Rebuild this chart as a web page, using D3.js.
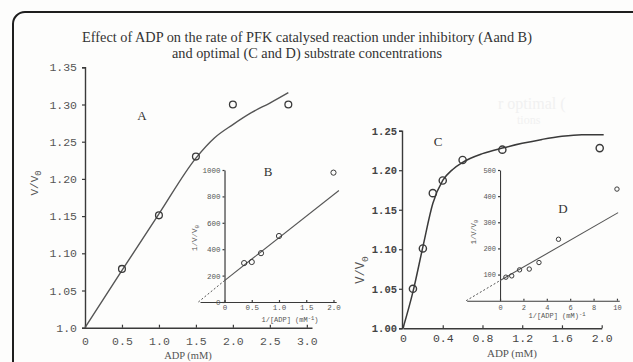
<!DOCTYPE html>
<html>
<head>
<meta charset="utf-8">
<script src="https://cdn.jsdelivr.net/npm/d3@7"></script>
<style>
  body { margin: 0; background: #fff; }
  svg { display: block; }
</style>
</head>
<body>
<div id="chart"></div>
<script>
// panel A: V/V0 vs ADP (inhibitory)
var adpA = [0.5, 1.0, 1.5, 2.0, 2.75];
var ratioA = [1.079, 1.151, 1.230, 1.300, 1.300];
var fitAx = [0, 0.5, 1.0, 1.5, 1.75, 2.0, 2.25, 2.5, 2.75];
var fitAy = [1.0, 1.077, 1.153, 1.228, 1.255, 1.273, 1.289, 1.302, 1.316];
var ticksAx = [0, 0.5, 1.0, 1.5, 2.0, 2.5, 3.0];
var ticksAy = [1.0, 1.05, 1.10, 1.15, 1.20, 1.25, 1.30, 1.35];

// panel B: double reciprocal of A
var invB = [0.36, 0.5, 0.67, 1.0, 2.0];
var recB = [295, 303, 370, 500, 980];
var lineBx = [-0.48, 0, 2.1];
var lineBy = [0, 162, 845];
var ticksBx = [0, 0.5, 1.0, 1.5, 2.0];
var ticksBy = [0, 200, 400, 600, 800, 1000];

// panel C: V/V0 vs ADP (optimal)
var adpC = [0.1, 0.2, 0.3, 0.4, 0.6, 1.0, 1.98];
var ratioC = [1.050, 1.101, 1.171, 1.187, 1.213, 1.226, 1.228];
var fitCx = [0, 0.1, 0.2, 0.3, 0.4, 0.5, 0.6, 0.8, 1.0, 1.2, 1.4, 1.6, 1.8, 2.02];
var fitCy = [1.0, 1.046, 1.103, 1.158, 1.187, 1.201, 1.210, 1.221, 1.228, 1.234, 1.239, 1.243, 1.245, 1.245];
var ticksCx = [0, 0.4, 0.8, 1.2, 1.6, 2.0];
var ticksCy = [1.00, 1.05, 1.10, 1.15, 1.20, 1.25];

// panel D: double reciprocal of C
var invD = [0.5, 1.0, 1.67, 2.5, 3.33, 5.0, 10.0];
var recD = [90, 95, 118, 121, 146, 235, 427];
var lineDx = [-2.9, 0, 10.1];
var lineDy = [0, 77, 337];
var ticksDx = [0, 2, 4, 6, 8, 10];
var ticksDy = [100, 200, 300, 400, 500];

var width = 633, height = 362;
var ink = '#3a3a3a', soft = '#555';
var mono = '"Liberation Mono", "DejaVu Sans Mono", monospace';
var serif = '"Liberation Serif", "DejaVu Serif", serif';

var svg = d3.select('#chart').append('svg')
  .attr('width', width).attr('height', height);

svg.append('rect').attr('width', width).attr('height', height).attr('fill', '#fdfdfc');

// frame, runs off the right and bottom edges
svg.append('rect')
  .attr('x', 13).attr('y', 12).attr('width', 640).attr('height', 380)
  .attr('rx', 12).attr('ry', 12)
  .attr('fill', 'none').attr('stroke', '#1e1e1e').attr('stroke-width', 2);

// faint ghost text bleeding through the scan
var ghost = svg.append('text').attr('font-family', serif).attr('font-size', 16).attr('fill', '#f1f1f1');
ghost.append('tspan').attr('x', 498).attr('y', 109).text('r optimal (');
ghost.append('tspan').attr('x', 517).attr('y', 124).attr('font-size', 12).text('tions');

// title
var title = svg.append('text').attr('font-family', serif).attr('font-size', 14.3)
  .attr('fill', '#333').attr('text-anchor', 'middle');
title.append('tspan').attr('x', 307).attr('y', 42)
  .text('Effect of ADP on the rate of PFK catalysed reaction under inhibitory (Aand B)');
title.append('tspan').attr('x', 307).attr('y', 58)
  .text('and optimal (C and D) substrate concentrations');

function styleAxis(g, size, color) {
  g.select('.domain').attr('stroke', ink).attr('stroke-width', 1.4);
  g.selectAll('.tick line').attr('stroke', ink).attr('stroke-width', 1.2);
  g.selectAll('.tick text').attr('font-family', mono).attr('font-size', size).attr('fill', color || soft);
}

function vLabel(x, y, size, prefix) {
  var t = svg.append('text')
    .attr('transform', `translate(${x},${y}) rotate(-90)`)
    .attr('text-anchor', 'middle')
    .attr('font-family', mono).attr('font-size', size).attr('fill', soft);
  t.append('tspan').text(prefix + 'V/V');
  t.append('tspan').attr('dy', size * 0.3).attr('font-size', size * 0.8).text('0');
}

function dots(xs, ys, x, y, r, sw) {
  svg.append('g').selectAll('circle')
    .data(xs)
    .enter()
    .append('circle')
    .attr('cx', d => x(d))
    .attr('cy', (d, i) => y(ys[i]))
    .attr('r', r)
    .attr('fill', 'none')
    .attr('stroke', ink)
    .attr('stroke-width', sw);
}

/***** A *****/
var xA = d3.scaleLinear().domain([0, 3.07]).range([85, 312]);
var yA = d3.scaleLinear().domain([1.0, 1.35]).range([327.7, 67.3]);

var gAx = svg.append('g').attr('transform', 'translate(0,327.7)')
  .call(d3.axisBottom(xA).tickValues(ticksAx).tickSizeInner(-3).tickSizeOuter(0).tickPadding(9)
    .tickFormat(d => d === 0 ? '0' : d3.format('.1f')(d)));
styleAxis(gAx, 11.5);
var gAy = svg.append('g').attr('transform', 'translate(85,0)')
  .call(d3.axisLeft(yA).tickValues(ticksAy).tickSize(3).tickPadding(5)
    .tickFormat(d => d === 1 ? '1.0' : d3.format('.2f')(d)));
styleAxis(gAy, 11.5);

var lineA = d3.line().x(d => xA(d[0])).y(d => yA(d[1])).curve(d3.curveMonotoneX);
svg.append('path')
  .attr('d', lineA(d3.zip(fitAx, fitAy)))
  .attr('fill', 'none').attr('stroke', soft).attr('stroke-width', 1.4);
dots(adpA, ratioA, xA, yA, 3.4, 1.3);

svg.append('text').attr('x', 142).attr('y', 120).attr('text-anchor', 'middle')
  .attr('font-family', serif).attr('font-size', 13).attr('fill', '#333').text('A');
vLabel(38, 183, 11, '');
svg.append('text').attr('x', 188).attr('y', 359).attr('text-anchor', 'middle')
  .attr('font-family', serif).attr('font-size', 10.5).attr('fill', soft).text('ADP (mM)');

/***** B *****/
var xB = d3.scaleLinear().domain([-0.45, 2.05]).range([200, 336.2]);
var yB = d3.scaleLinear().domain([0, 1000]).range([302, 170]);

var gBx = svg.append('g').attr('transform', 'translate(0,302)')
  .call(d3.axisBottom(xB).tickValues(ticksBx).tickSizeInner(-2).tickSizeOuter(0).tickPadding(3)
    .tickFormat(d => d === 0 ? '0' : d3.format('.1f')(d)));
styleAxis(gBx, 7.5);
var gBy = svg.append('g').attr('transform', `translate(${xB(0)},0)`)
  .call(d3.axisLeft(yB).tickValues(ticksBy).tickSize(2).tickSizeOuter(0).tickPadding(2)
    .tickFormat(d3.format('d')));
styleAxis(gBy, 7.5);
gBy.select('.domain').attr('stroke-width', 1.2);
gBx.select('.domain').attr('stroke-width', 1.2);

var lineB = d3.line().x(d => xB(d[0])).y(d => yB(d[1]));
var segB = d3.zip(lineBx, lineBy);
svg.append('path').attr('d', lineB(segB.slice(0, 2)))
  .attr('fill', 'none').attr('stroke', soft).attr('stroke-width', 1).attr('stroke-dasharray', '2,2');
svg.append('path').attr('d', lineB(segB.slice(1)))
  .attr('fill', 'none').attr('stroke', soft).attr('stroke-width', 1.1);
dots(invB, recB, xB, yB, 2.6, 1);

svg.append('text').attr('x', 268).attr('y', 176).attr('text-anchor', 'middle')
  .attr('font-family', serif).attr('font-size', 13).attr('fill', '#333').text('B');
vLabel(197, 238, 7.5, '1/');
var bl = svg.append('text').attr('x', 290).attr('y', 322).attr('text-anchor', 'middle')
  .attr('font-family', mono).attr('font-size', 7).attr('fill', soft);
bl.append('tspan').text('1/[ADP] (mM');
bl.append('tspan').attr('dy', -2.5).attr('font-size', 5.5).text('-1');
bl.append('tspan').attr('dy', 2.5).text(')');

/***** C *****/
var xC = d3.scaleLinear().domain([0, 2.0]).range([403, 601.7]);
var yC = d3.scaleLinear().domain([1.0, 1.25]).range([328.3, 130.7]);

var gCx = svg.append('g').attr('transform', 'translate(0,328.3)')
  .call(d3.axisBottom(xC).tickValues(ticksCx).tickSizeInner(-3).tickSizeOuter(0).tickPadding(6)
    .tickFormat(d => d === 0 ? '0' : d3.format('.1f')(d)));
styleAxis(gCx, 11.5, '#444');
var gCy = svg.append('g').attr('transform', 'translate(402,0)')
  .call(d3.axisLeft(yC).tickValues(ticksCy).tickSize(3).tickPadding(2)
    .tickFormat(d3.format('.2f')));
styleAxis(gCy, 10.5, '#444');
gCy.selectAll('.tick text').attr('font-weight', 'bold');

var lineC = d3.line().x(d => xC(d[0])).y(d => yC(d[1])).curve(d3.curveMonotoneX);
svg.append('path')
  .attr('d', lineC(d3.zip(fitCx, fitCy)))
  .attr('fill', 'none').attr('stroke', ink).attr('stroke-width', 1.5);
dots(adpC, ratioC, xC, yC, 3.6, 1.4);

svg.append('text').attr('x', 438).attr('y', 146).attr('text-anchor', 'middle')
  .attr('font-family', serif).attr('font-size', 13).attr('fill', '#333').text('C');
vLabel(364, 270, 12, '');
svg.append('text').attr('x', 512).attr('y', 357).attr('text-anchor', 'middle')
  .attr('font-family', serif).attr('font-size', 11).attr('fill', soft).text('ADP (mM)');

/***** D *****/
var xD = d3.scaleLinear().domain([-2.85, 10.2]).range([466.7, 619.3]);
var yD = d3.scaleLinear().domain([0, 500]).range([300.7, 170]);

var gDx = svg.append('g').attr('transform', 'translate(0,300.7)')
  .call(d3.axisBottom(xD).tickValues(ticksDx).tickSizeInner(-2).tickSizeOuter(0).tickPadding(4));
styleAxis(gDx, 7);
var gDy = svg.append('g').attr('transform', `translate(${xD(0)},0)`)
  .call(d3.axisLeft(yD).tickValues(ticksDy).tickSize(2).tickSizeOuter(0).tickPadding(2));
styleAxis(gDy, 7);
gDy.select('.domain').attr('stroke-width', 1.1);
gDx.select('.domain').attr('stroke-width', 1.1);

var lineD = d3.line().x(d => xD(d[0])).y(d => yD(d[1]));
var segD = d3.zip(lineDx, lineDy);
svg.append('path').attr('d', lineD(segD.slice(0, 2)))
  .attr('fill', 'none').attr('stroke', soft).attr('stroke-width', 1).attr('stroke-dasharray', '2,2');
svg.append('path').attr('d', lineD(segD.slice(1)))
  .attr('fill', 'none').attr('stroke', soft).attr('stroke-width', 1.1);
dots(invD, recD, xD, yD, 2.2, 1);

svg.append('text').attr('x', 563).attr('y', 213).attr('text-anchor', 'middle')
  .attr('font-family', serif).attr('font-size', 13).attr('fill', '#333').text('D');
vLabel(476, 232, 7, '1/');
var dl = svg.append('text').attr('x', 557).attr('y', 318).attr('text-anchor', 'middle')
  .attr('font-family', mono).attr('font-size', 7).attr('fill', soft);
dl.append('tspan').text('1/[ADP] (mM)');
dl.append('tspan').attr('dy', -2.5).attr('font-size', 5.5).text('-1');
</script>
</body>
</html>
